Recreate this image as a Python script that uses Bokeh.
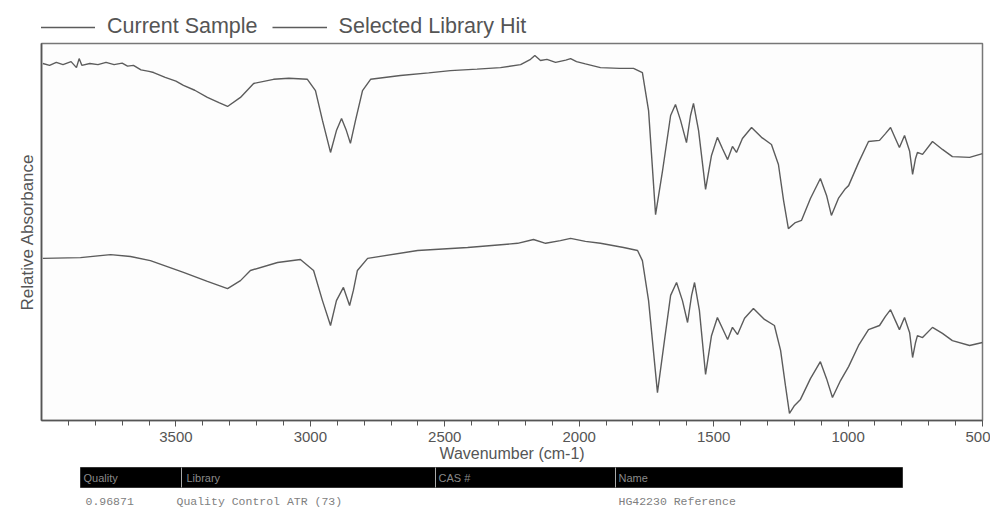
from bokeh.plotting import figure
from bokeh.models import Range1d, FixedTicker, Legend, LegendItem
from bokeh.layouts import column
from bokeh.embed import file_html
from bokeh.resources import INLINE
from bokeh.core.properties import value

# ---- data -------------------------------------------------------------
series_names = ["Current Sample", "Selected Library Hit"]

sample_wn = [3995, 3970, 3945, 3920, 3890, 3870, 3860, 3850, 3820, 3790,
             3760, 3730, 3700, 3680, 3658, 3630, 3600, 3583, 3540, 3500,
             3472, 3430, 3383, 3340, 3308, 3260, 3211, 3137, 3080, 3011,
             2981, 2955, 2925, 2903, 2884, 2866, 2851, 2832, 2806, 2776,
             2665, 2560, 2479, 2380, 2293, 2218, 2181, 2165, 2144, 2120,
             2088, 2050, 2032, 2010, 1977, 1921, 1850, 1798, 1765, 1742,
             1716, 1690, 1660, 1642, 1623, 1601, 1586, 1575, 1556, 1530,
             1508, 1486, 1467, 1448, 1430, 1415, 1393, 1359, 1322, 1285,
             1259, 1240, 1222, 1196, 1173, 1140, 1103, 1080, 1062, 1036,
             1010, 998, 961, 924, 883, 861, 842, 824, 809, 790,
             771, 760, 749, 742, 723, 686, 649, 612, 548, 500]
sample_abs = [94.7, 94.2, 95.0, 94.4, 95.2, 93.6, 96.0, 94.2, 94.7, 94.4,
              95.0, 94.4, 94.8, 94.0, 94.2, 93.0, 92.6, 92.3, 91.0, 90.0,
              88.9, 87.6, 85.7, 84.3, 83.3, 85.7, 89.4, 90.5, 90.8, 90.5,
              87.5, 79.6, 71.1, 76.9, 80.1, 76.9, 73.5, 79.6, 87.5, 90.5,
              91.5, 92.2, 92.8, 93.2, 93.6, 94.4, 95.8, 96.8, 95.5, 95.8,
              95.0, 95.6, 96.0, 95.2, 94.6, 93.6, 93.4, 93.4, 92.3, 82.2,
              54.6, 66.3, 80.9, 83.8, 79.6, 73.7, 80.9, 84.1, 76.9, 61.3,
              70.3, 75.1, 72.1, 69.2, 72.7, 71.1, 74.8, 77.7, 75.1, 73.2,
              67.9, 58.4, 50.9, 52.5, 53.1, 58.9, 64.2, 59.7, 54.4, 58.9,
              61.5, 62.3, 68.4, 74.0, 74.3, 76.1, 77.7, 74.8, 72.4, 75.6,
              71.4, 65.3, 69.5, 71.1, 70.6, 74.0, 71.9, 70.0, 69.8, 70.8]

library_wn = [3995, 3855, 3743, 3669, 3595, 3472, 3383, 3308, 3260, 3223,
              3122, 3037, 2988, 2955, 2925, 2903, 2877, 2854, 2840, 2825,
              2787, 2601, 2415, 2229, 2170, 2125, 2070, 2032, 1977, 1921,
              1835, 1783, 1765, 1742, 1709, 1683, 1660, 1638, 1616, 1597,
              1582, 1571, 1553, 1530, 1508, 1486, 1467, 1448, 1430, 1411,
              1385, 1352, 1311, 1274, 1251, 1233, 1218, 1199, 1177, 1140,
              1103, 1080, 1058, 1028, 998, 961, 924, 883, 861, 842,
              824, 809, 790, 771, 760, 749, 742, 723, 686, 649,
              612, 548, 500]
library_abs = [43.0, 43.2, 44.0, 43.5, 42.4, 39.3, 36.9, 35.0, 37.1, 39.8,
               41.9, 42.7, 39.8, 31.8, 25.2, 31.8, 35.3, 30.5, 34.5, 39.8,
               43.0, 45.1, 45.9, 47.0, 48.0, 47.0, 47.7, 48.3, 47.5, 47.0,
               45.9, 45.1, 42.4, 31.8, 7.4, 21.2, 33.2, 36.6, 31.8, 26.0,
               33.2, 36.6, 29.2, 12.2, 22.5, 27.3, 24.4, 21.5, 24.7, 22.8,
               27.1, 29.7, 26.8, 25.2, 18.6, 9.3, 1.9, 4.0, 5.6, 11.1,
               15.6, 11.1, 6.1, 10.6, 14.3, 19.9, 24.1, 25.2, 27.6, 29.4,
               26.5, 24.1, 27.3, 23.3, 16.7, 20.7, 22.5, 22.0, 24.7, 23.1,
               21.2, 19.9, 20.7]

major_ticks = [3500, 3000, 2500, 2000, 1500, 1000, 500]
minor_ticks = [3900, 3800, 3700, 3600, 3400, 3300, 3200, 3100, 2900, 2800,
               2700, 2600, 2400, 2300, 2200, 2100, 1900, 1800, 1700, 1600,
               1400, 1300, 1200, 1100, 900, 800, 700, 600]

table_headers = ["Quality", "Library", "CAS #", "Name"]
table_row = ["0.96871", "Quality Control ATR (73)", "", "HG42230 Reference"]

# ---- styles -----------------------------------------------------------
LINE = "#5c5c5c"
TXT = "#555555"
FONT = "Liberation Sans"
W = 990
NAN = float("nan")

# ---- header with the legend -------------------------------------------
hf = figure(width=W, height=41, x_range=Range1d(0, 1), y_range=Range1d(0, 1),
            output_backend="svg", toolbar_location=None, min_border=0)
hf.axis.visible = False
hf.grid.visible = False
hf.outline_line_color = None
hf.border_fill_color = "white"
hf.background_fill_color = "white"
k1 = hf.line(x=[NAN, NAN], y=[NAN, NAN], line_color=LINE, line_width=1.4)
k2 = hf.line(x=[NAN, NAN], y=[NAN, NAN], line_color=LINE, line_width=1.4)
legend = Legend(items=[LegendItem(label=series_names[0], renderers=[k1]),
                       LegendItem(label=series_names[1], renderers=[k2])],
                orientation="horizontal", location=(-1, 2),
                glyph_width=55, glyph_height=20, label_standoff=12, spacing=14,
                padding=0, margin=0, border_line_alpha=0, background_fill_alpha=0,
                label_text_font=FONT, label_text_font_size="21.5px", label_text_color=TXT)
hf.add_layout(legend)

# ---- main spectrum plot -----------------------------------------------
p = figure(width=W, height=425, x_range=Range1d(4000, 500), y_range=Range1d(0, 100),
           output_backend="svg", toolbar_location=None,
           min_border_left=41, min_border_right=8, min_border_top=2, min_border_bottom=46)
p.background_fill_color = "#fdfdfd"
p.border_fill_color = "white"
p.outline_line_color = "#777777"
p.outline_line_width = 1.5
p.xgrid.grid_line_color = None
p.ygrid.grid_line_color = None

r1 = p.line(sample_wn, sample_abs, line_color=LINE, line_width=1.4)
r2 = p.line(library_wn, library_abs, line_color=LINE, line_width=1.4)

xa = p.xaxis[0]
xa.ticker = FixedTicker(ticks=major_ticks, minor_ticks=minor_ticks)
xa.axis_label = "Wavenumber (cm-1)"
xa.axis_line_color = "#555555"
xa.axis_line_width = 1.6
xa.major_tick_line_color = "#555555"
xa.minor_tick_line_color = "#555555"
xa.major_tick_in = 0
xa.major_tick_out = 6
xa.minor_tick_in = 0
xa.minor_tick_out = 5
xa.major_label_standoff = 5
xa.major_label_text_font = FONT
xa.major_label_text_font_size = "15px"
xa.major_label_text_color = TXT
xa.axis_label_text_font = FONT
xa.axis_label_text_font_size = "16px"
xa.axis_label_text_font_style = "normal"
xa.axis_label_text_color = TXT
xa.axis_label_standoff = 0

ya = p.yaxis[0]
ya.ticker = FixedTicker(ticks=[])
ya.axis_label = "Relative Absorbance"
ya.axis_line_color = "#555555"
ya.axis_line_width = 1.6
ya.major_tick_line_color = None
ya.minor_tick_line_color = None
ya.axis_label_text_font = FONT
ya.axis_label_text_font_size = "17px"
ya.axis_label_text_font_style = "normal"
ya.axis_label_text_color = TXT
ya.axis_label_standoff = 5

# ---- result table under the chart -----------------------------------
# (the column aligns this figure's frame with the plot frame: x = page px)
col_x = [83, 186, 438, 618]
row_x = [85, 176, 438, 618]
sep_x = [181, 435, 615]

t = figure(width=W, height=46, x_range=Range1d(41, 982), y_range=Range1d(0, 46),
           output_backend="svg", toolbar_location=None, min_border=0)
t.axis.visible = False
t.grid.visible = False
t.outline_line_color = None
t.background_fill_color = "white"
t.border_fill_color = "white"
t.quad(left=[80], right=[902], bottom=[25], top=[45], fill_color="black", line_color="#333333")
t.segment(x0=sep_x, y0=[25] * 3, x1=sep_x, y1=[45] * 3, line_color="#aaaaaa", line_width=1)
t.text(x=col_x, y=[35] * 4, text=table_headers, text_font=value(FONT), text_font_size="11px",
       text_color="#8a8a8a", text_baseline="middle")
t.text(x=row_x, y=[11] * 4, text=table_row, text_font=value("Liberation Mono"), text_font_size="11.5px",
       text_color="#808080", text_baseline="middle")

layout = column(hf, p, t, spacing=0)
open("out.html", "w").write(file_html(layout, INLINE))
